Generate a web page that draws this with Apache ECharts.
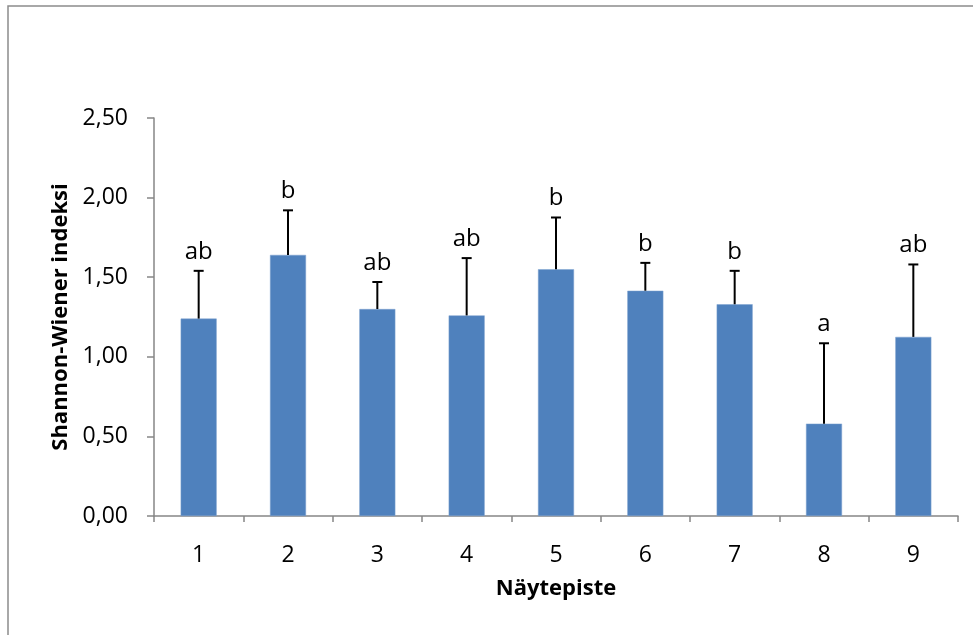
<!DOCTYPE html>
<html>
<head>
<meta charset="utf-8">
<script src="https://cdn.jsdelivr.net/npm/echarts@6/dist/echarts.min.js"></script>
<style>
  html, body { margin: 0; padding: 0; background: #fff; }
  #chart { width: 973px; height: 635px; }
</style>
</head>
<body>
<div id="chart"></div>
<script>
// näytepisteet ja arvot
var categories = ['1', '2', '3', '4', '5', '6', '7', '8', '9']
var means = [1.24, 1.64, 1.30, 1.26, 1.55, 1.415, 1.33, 0.58, 1.125]
var errors = [0.30, 0.28, 0.17, 0.36, 0.325, 0.175, 0.21, 0.505, 0.455]
var letters = ['ab', 'b', 'ab', 'ab', 'b', 'b', 'b', 'a', 'ab']
var yTicks = [0, 0.5, 1, 1.5, 2, 2.5]

var font = '"Open Sans", "Noto Sans", sans-serif'
var axisColor = '#868686'

var errData = means.map(function (m, i) {
  return [i, m, m + errors[i], letters[i]]
})

var chart = echarts.init(document.getElementById('chart'))

chart.setOption({
  animation: false,
  grid: {
    left: 154,
    right: 15,
    top: 118,
    bottom: 119,
    containLabel: false
  },
  graphic: [{
    type: 'rect',
    shape: { x: 8, y: 6, width: 1000, height: 700 },
    style: { fill: 'none', stroke: '#8c8c8c', lineWidth: 1.5 },
    silent: true
  }],
  xAxis: {
    type: 'category',
    data: categories,
    boundaryGap: true,
    name: 'Näytepiste',
    nameLocation: 'middle',
    nameGap: 62,
    nameTextStyle: { fontFamily: font, fontSize: 22, fontWeight: 'bold', color: '#000' },
    axisLine: { lineStyle: { color: axisColor, width: 1.5 } },
    axisTick: { show: true, length: 6, lineStyle: { color: axisColor, width: 1.5 } },
    axisLabel: { margin: 28, fontFamily: font, fontSize: 23, color: '#000' }
  },
  yAxis: {
    type: 'value',
    min: yTicks[0],
    max: yTicks[yTicks.length - 1],
    interval: 0.5,
    name: 'Shannon-Wiener indeksi',
    nameLocation: 'middle',
    nameGap: 82,
    nameTextStyle: { fontFamily: font, fontSize: 22, fontWeight: 'bold', color: '#000' },
    splitLine: { show: false },
    axisLine: { show: true, lineStyle: { color: axisColor, width: 1.5 } },
    axisTick: { show: true, length: 7, lineStyle: { color: axisColor, width: 1.5 } },
    axisLabel: {
      margin: 26,
      fontFamily: font,
      fontSize: 23,
      color: '#000',
      formatter: function (v) { return v.toFixed(2).replace('.', ',') }
    }
  },
  series: [{
    type: 'bar',
    data: means,
    barWidth: 36,
    itemStyle: { color: '#4F81BD', borderColor: '#7FA3D1', borderWidth: 0.5 }
  }, {
    type: 'custom',
    data: errData,
    z: 5,
    renderItem: function (params, api) {
      var base = api.coord([api.value(0), api.value(1)])
      var top = api.coord([api.value(0), api.value(2)])
      var half = 5
      return {
        type: 'group',
        children: [{
          type: 'line',
          shape: { x1: top[0], y1: base[1], x2: top[0], y2: top[1] },
          style: { stroke: '#000', lineWidth: 2 }
        }, {
          type: 'line',
          shape: { x1: top[0] - half, y1: top[1], x2: top[0] + half, y2: top[1] },
          style: { stroke: '#000', lineWidth: 2 }
        }, {
          type: 'text',
          style: {
            x: top[0],
            y: top[1] - 7,
            text: errData[params.dataIndex][3],
            fontFamily: font,
            fontSize: 24,
            fill: '#000',
            align: 'center',
            verticalAlign: 'bottom'
          }
        }]
      }
    }
  }]
})
</script>
</body>
</html>
